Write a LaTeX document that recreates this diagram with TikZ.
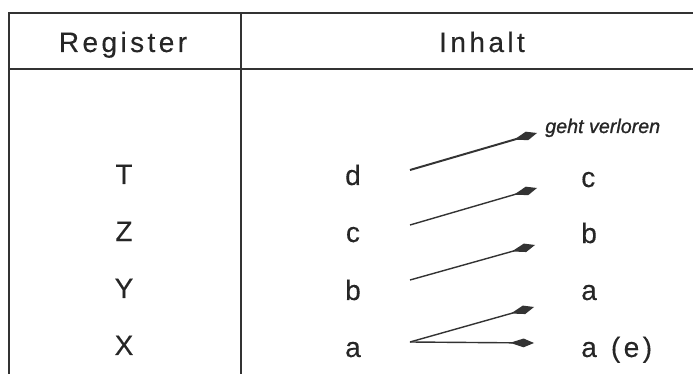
\documentclass[tikz,border=0pt]{standalone}
\usepackage{fontspec}
\setmainfont{Liberation Sans}[LetterSpace=12, FakeBold=0.2]
\newfontfamily\handfont{Liberation Sans}[FakeBold=1]
\usetikzlibrary{calc,arrows.meta}

\begin{document}
\begin{tikzpicture}[
  x=0.025cm, y=-0.025cm,
  every node/.style={inner sep=0pt, text=black!85, font=\fontsize{20}{23}\selectfont},
  reg/.style={anchor=base},
  neu/.style={anchor=base west},
  note/.style={anchor=base west, font=\handfont\itshape\fontsize{14}{16}\selectfont},
  rule/.style={line width=1.3pt, black!80},
  move/.style={line width=1pt, black!80, -{Kite[length=6mm,width=2.2mm,inset=3.4mm]}}
]
\useasboundingbox (0,0) rectangle (693,374);

% table
\draw[rule] (9,374) -- (9,13) -- (693,13);
\draw[rule] (9,69) -- (693,69);
\draw[rule] (241,13) -- (241,374);

\node[reg] (head-reg) at (123,52) {Register};
\node[reg] (head-inh) at (482,52) {Inhalt};

% registers
\node[reg] (T) at (124,184) {T};
\node[reg] (Z) at (124,241) {Z};
\node[reg] (Y) at (124,298) {Y};
\node[reg] (X) at (124,355) {X};

% old contents
\node[reg] (d) at (353,185) {d};
\node[reg] (c) at (353,242) {c};
\node[reg] (b) at (353,300) {b};
\node[reg] (a) at (353,357) {a};

% new contents
\node[note] (lost) at (545,133) {geht verloren};
\node[neu] (new-c) at (581,187) {c};
\node[neu] (new-b) at (581,243) {b};
\node[neu] (new-a) at (581,300) {a};
\node[neu] (new-e) at (581,357) {a\hspace{10pt}(e)};

\draw[move, line width=1.4pt] ($(d.base)+(57,-15)$) -- ($(lost.base west)+(-8,0)$);
\draw[move] ($(c.base)+(57,-17)$) -- ($(new-c.base west)+(-44,1)$);
\draw[move] ($(b.base)+(57,-20)$) -- ($(new-b.base west)+(-46,2)$);
\draw[move] ($(a.base)+(57,-15)$) -- ($(new-a.base west)+(-47,7)$);
\draw[move] ($(a.base)+(57,-15)$) -- ($(new-e.base west)+(-47,-14)$);
\end{tikzpicture}
\end{document}
